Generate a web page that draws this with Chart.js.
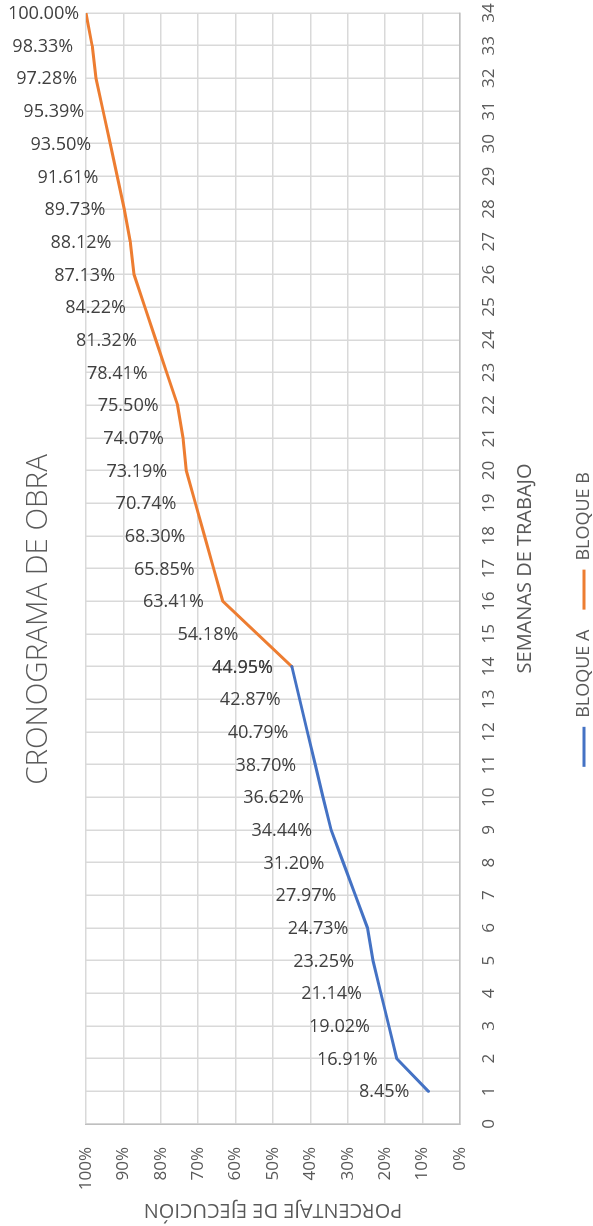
<!DOCTYPE html>
<html>
<head>
<meta charset="utf-8">
<script src="https://cdn.jsdelivr.net/npm/chart.js@4.4.1/dist/chart.umd.min.js"></script>
<style>
  html, body { margin: 0; padding: 0; background: #fff; overflow: hidden; }
  /* chart is laid out landscape, then turned a quarter to the left */
  #wrap {
    position: absolute; left: 0; top: 0;
    width: 1226px; height: 593px;
    transform-origin: 0 0;
    transform: translateY(1226px) rotate(-90deg);
  }
</style>
</head>
<body>
<div id="wrap"><canvas id="chart" width="1226" height="593"></canvas></div>
<script>
const semanasA = [1, 2, 3, 4, 5, 6, 7, 8, 9, 10, 11, 12, 13, 14];
const bloqueA = [8.45, 16.91, 19.02, 21.14, 23.25, 24.73, 27.97, 31.20, 34.44, 36.62, 38.70, 40.79, 42.87, 44.95];

const semanasB = [14, 15, 16, 17, 18, 19, 20, 21, 22, 23, 24, 25, 26, 27, 28, 29, 30, 31, 32, 33, 34];
const bloqueB = [44.95, 54.18, 63.41, 65.85, 68.30, 70.74, 73.19, 74.07, 75.50, 78.41, 81.32, 84.22, 87.13, 88.12, 89.73, 91.61, 93.50, 95.39, 97.28, 98.33, 100.00];

const toPoints = (xs, ys) => xs.map((x, i) => ({ x: x, y: ys[i] }));

Chart.defaults.font.family = "'Open Sans', 'Liberation Sans', sans-serif";
Chart.defaults.color = '#595959';

// value labels, turned so they read level once the page is rotated
const valueLabels = {
    id: 'valueLabels',
    afterDatasetsDraw(chart) {
        const ctx = chart.ctx;
        ctx.save();
        ctx.font = "18px 'Open Sans', 'Liberation Sans', sans-serif";
        ctx.fillStyle = '#404040';
        ctx.textAlign = 'left';
        ctx.textBaseline = 'middle';
        chart.data.datasets.forEach((ds, di) => {
            const meta = chart.getDatasetMeta(di);
            meta.data.forEach((pt, i) => {
                const txt = ds.data[i].y.toFixed(2) + '%';
                const w = ctx.measureText(txt).width;
                let start = -19 - w;
                if (pt.y + start < 8) start = 8 - pt.y;
                ctx.save();
                ctx.translate(pt.x, pt.y);
                ctx.rotate(Math.PI / 2);
                ctx.fillText(txt, start, 1);
                ctx.restore();
            });
        });
        ctx.restore();
    }
};

const ctx = document.getElementById('chart').getContext('2d');
const myChart = new Chart(ctx, {
    type: 'line',
    data: {
        datasets: [{
            label: 'BLOQUE A',
            data: toPoints(semanasA, bloqueA),
            borderColor: '#4472C4',
            backgroundColor: '#4472C4',
            borderWidth: 3,
            pointRadius: 0,
            pointStyle: 'line',
            borderCapStyle: 'round',
            borderJoinStyle: 'round',
            tension: 0
        }, {
            label: 'BLOQUE B',
            data: toPoints(semanasB, bloqueB),
            borderColor: '#ED7D31',
            backgroundColor: '#ED7D31',
            borderWidth: 3,
            pointRadius: 0,
            pointStyle: 'line',
            borderCapStyle: 'round',
            borderJoinStyle: 'round',
            tension: 0
        }]
    },
    options: {
        responsive: false,
        animation: false,
        layout: { padding: { right: 13, bottom: -10 } },
        plugins: {
            title: {
                display: true,
                text: 'CRONOGRAMA DE OBRA',
                color: '#595959',
                font: { size: 29.5, weight: 300 },
                padding: { top: 20.5, bottom: 30 }
            },
            legend: {
                position: 'bottom',
                labels: {
                    usePointStyle: true,
                    pointStyleWidth: 40,
                    font: { size: 18 },
                    color: '#595959',
                    padding: 20
                }
            },
            tooltip: { enabled: false }
        },
        scales: {
            x: {
                type: 'linear',
                min: 0,
                max: 34,
                afterFit: (scale) => {
                    scale.height = 95;
                    scale.paddingLeft = 0;
                    scale.paddingRight = 0;
                },
                ticks: { stepSize: 1, autoSkip: false, maxRotation: 0, padding: 19, font: { size: 17 } },
                grid: { color: '#D9D9D9', lineWidth: 1.5, drawTicks: false },
                border: { color: '#BFBFBF', width: 1.5 },
                title: {
                    display: true,
                    text: 'SEMANAS DE TRABAJO',
                    font: { size: 20 },
                    padding: { top: 17, bottom: 18 }
                }
            },
            y: {
                min: 0,
                max: 100,
                afterFit: (scale) => { scale.width = 102; },
                ticks: {
                    stepSize: 10,
                    padding: 23,
                    font: { size: 17 },
                    callback: (v) => v + '%'
                },
                grid: { color: '#D9D9D9', lineWidth: 1.5, drawTicks: false },
                border: { color: '#BFBFBF', width: 1.5 },
                title: {
                    display: true,
                    text: 'PORCENTAJE DE EJECUCIÓN',
                    font: { size: 20 },
                    padding: { top: 4, bottom: 7 }
                }
            }
        }
    },
    plugins: [valueLabels]
});
</script>
</body>
</html>
